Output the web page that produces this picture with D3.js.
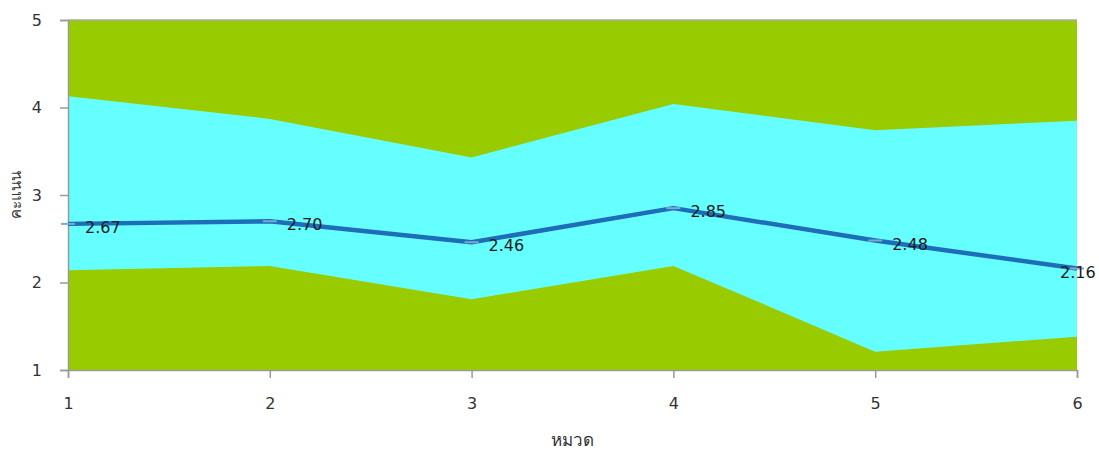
<!DOCTYPE html>
<html>
<head>
<meta charset="utf-8">
<script src="https://cdn.jsdelivr.net/npm/d3@7"></script>
<style>
  html, body { margin: 0; padding: 0; background: #fff; }
  svg { display: block; }
</style>
</head>
<body>
<svg id="chart" width="1099" height="450"></svg>
<script>
// Categories (หมวด) and score series
const categories = [1, 2, 3, 4, 5, 6];
const meanScores = [2.67, 2.70, 2.46, 2.85, 2.48, 2.16];
const lowerBound = [2.14, 2.19, 1.81, 2.19, 1.21, 1.38];
const upperBound = [4.13, 3.87, 3.43, 4.04, 3.74, 3.85];
const yTicks = [1, 2, 3, 4, 5];
const yDomain = [1, 5];

const svg = d3.select("#chart");
const margin = { left: 68, right: 22, top: 20, bottom: 80 };
const W = 1099, H = 450;

const x = d3.scaleLinear()
  .domain(d3.extent(categories))
  .range([margin.left, W - margin.right]);
const y = d3.scaleLinear()
  .domain(yDomain)
  .range([H - margin.bottom, margin.top]);

const fontFam = "Tahoma, 'DejaVu Sans', sans-serif";

// Full-range background band
svg.append("path")
  .datum(categories)
  .attr("fill", "#99CC00")
  .attr("d", d3.area()
    .x(d => x(d))
    .y0(y(yDomain[0]))
    .y1(y(yDomain[1])));

// Range band between lower and upper bounds
const band = categories.map((c, i) => ({ c, lo: lowerBound[i], hi: upperBound[i] }));
svg.append("path")
  .datum(band)
  .attr("fill", "#66FFFF")
  .attr("d", d3.area()
    .x(d => x(d.c))
    .y0(d => y(d.lo))
    .y1(d => y(d.hi)));

// Y axis
const yAxis = svg.append("g")
  .attr("transform", `translate(${margin.left},0)`)
  .call(d3.axisLeft(y).tickValues(yTicks).tickSize(8).tickPadding(18).tickFormat(d3.format("d")));
yAxis.select(".domain").attr("stroke", "#9a9a9a").attr("stroke-width", 1.5);
yAxis.selectAll(".tick line").attr("stroke", "#9a9a9a").attr("stroke-width", 1.5);
yAxis.selectAll(".tick text")
  .attr("font-family", fontFam).attr("font-size", 16).attr("fill", "#333");

// Top border of the plot
svg.append("line")
  .attr("x1", margin.left).attr("x2", W - margin.right)
  .attr("y1", y(yDomain[1])).attr("y2", y(yDomain[1]))
  .attr("stroke", "#a8a8a8").attr("stroke-width", 1.5);

// X axis
const xAxis = svg.append("g")
  .attr("transform", `translate(0,${y(yDomain[0])})`)
  .call(d3.axisBottom(x).tickValues(categories).tickSize(8).tickPadding(20).tickFormat(d3.format("d")));
xAxis.select(".domain").attr("stroke", "#9a9a9a").attr("stroke-width", 1.5);
xAxis.selectAll(".tick line").attr("stroke", "#9a9a9a").attr("stroke-width", 1.5);
xAxis.selectAll(".tick text")
  .attr("font-family", fontFam).attr("font-size", 16).attr("fill", "#333");

// Mean score line
const pts = categories.map((c, i) => ({ c, v: meanScores[i] }));
svg.append("path")
  .datum(pts)
  .attr("fill", "none")
  .attr("stroke", "#1E6DB8")
  .attr("stroke-width", 4.5)
  .attr("stroke-linejoin", "round")
  .attr("d", d3.line().x(d => x(d.c)).y(d => y(d.v)));

// Dash markers
svg.selectAll("line.marker")
  .data(pts)
  .join("line")
  .attr("class", "marker")
  .attr("x1", d => x(d.c) - 7).attr("x2", d => x(d.c) + 7)
  .attr("y1", d => y(d.v)).attr("y2", d => y(d.v))
  .attr("stroke", "#7fa9cf").attr("stroke-width", 2);

// Value labels
svg.selectAll("text.val")
  .data(pts)
  .join("text")
  .attr("class", "val")
  .attr("x", (d, i) => i === pts.length - 1 ? x(d.c) - 17 : x(d.c) + 17)
  .attr("y", d => y(d.v) + 9)
  .attr("font-family", fontFam)
  .attr("font-size", 16)
  .attr("fill", "#1a1a1a")
  .text(d => d.v.toFixed(2));

// Axis titles
svg.append("text")
  .attr("x", (x.range()[0] + x.range()[1]) / 2 + 0)
  .attr("y", 446)
  .attr("text-anchor", "middle")
  .attr("font-family", fontFam)
  .attr("font-size", 17)
  .attr("fill", "#333")
  .text("หมวด");

svg.append("text")
  .attr("transform", `translate(21,${(y(yDomain[0]) + y(yDomain[1])) / 2}) rotate(-90)`)
  .attr("text-anchor", "middle")
  .attr("font-family", fontFam)
  .attr("font-size", 15)
  .attr("fill", "#333")
  .text("คะแนน");
</script>
</body>
</html>
